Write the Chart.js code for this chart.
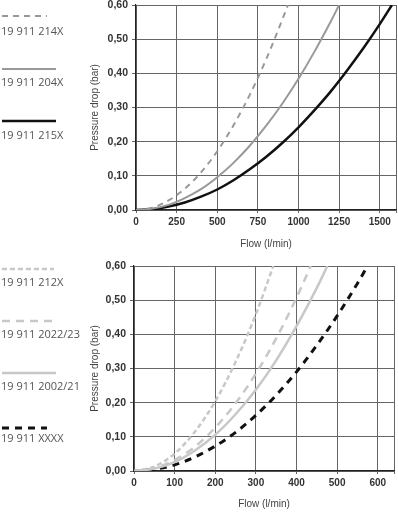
<!DOCTYPE html>
<html>
<head>
<meta charset="utf-8">
<script src="https://cdn.jsdelivr.net/npm/chart.js@4"></script>
<style>
    body { margin: 0; background: #fff; width: 398px; height: 512px; position: relative; overflow: hidden; }
    canvas { position: absolute; left: 0; }
    #topChart { top: 0; }
    #bottomChart { top: 256px; }
    .lbl { position: absolute; left: 1px; font-family: "Open Sans", sans-serif; font-size: 11px; color: #555; white-space: nowrap; line-height: 14px; }
    svg { position: absolute; left: 2px; }
</style>
</head>
<body>
<canvas id="topChart" width="398" height="256"></canvas>
<canvas id="bottomChart" width="398" height="256"></canvas>
<div id="legend"></div>
<script>
// Top chart data (flow l/min -> pressure drop bar)
const flow214 = [0, 100, 200, 300, 400, 500, 600, 700, 800, 900, 935];
const drop214 = [0, 0.007, 0.028, 0.062, 0.110, 0.172, 0.248, 0.337, 0.440, 0.557, 0.60];
const flow204 = [0, 100, 200, 300, 400, 500, 600, 700, 800, 900, 1000, 1100, 1200, 1250];
const drop204 = [0, 0.004, 0.015, 0.035, 0.061, 0.096, 0.138, 0.188, 0.246, 0.311, 0.384, 0.465, 0.553, 0.60];
const flow215 = [0, 100, 200, 300, 400, 500, 600, 700, 800, 900, 1000, 1100, 1200, 1300, 1400, 1500, 1575];
const drop215 = [0, 0.002, 0.010, 0.022, 0.039, 0.060, 0.087, 0.119, 0.155, 0.196, 0.242, 0.293, 0.348, 0.409, 0.474, 0.544, 0.60];

// Bottom chart data
const flow212 = [0, 50, 100, 150, 200, 250, 300, 343];
const drop212 = [0, 0.013, 0.051, 0.115, 0.204, 0.319, 0.459, 0.60];
const flow2022 = [0, 50, 100, 150, 200, 250, 300, 350, 400, 435];
const drop2022 = [0, 0.008, 0.032, 0.071, 0.127, 0.198, 0.285, 0.388, 0.507, 0.60];
const flow2002 = [0, 50, 100, 150, 200, 250, 300, 350, 400, 450, 476];
const drop2002 = [0, 0.007, 0.026, 0.060, 0.106, 0.166, 0.238, 0.324, 0.424, 0.536, 0.60];
const flowXXXX = [0, 50, 100, 150, 200, 250, 300, 350, 400, 450, 500, 550, 575];
const dropXXXX = [0, 0.005, 0.018, 0.041, 0.073, 0.113, 0.163, 0.222, 0.290, 0.368, 0.454, 0.549, 0.60];

const topXTicks = [0, 250, 500, 750, 1000, 1250, 1500];
const bottomXTicks = [0, 100, 200, 300, 400, 500, 600];
const yTicks = [0, 0.1, 0.2, 0.3, 0.4, 0.5, 0.6];

function series(label, xs, ys, color, width, dash) {
    return {
        label: label,
        data: xs.map((x, i) => ({ x: x, y: ys[i] })),
        borderColor: color,
        borderWidth: width,
        borderDash: dash,
        pointRadius: 0,
        tension: 0.4,
        cubicInterpolationMode: 'monotone',
        fill: false
    };
}

function makeChart(id, datasets, xMax, xTicks, geo) {
    return new Chart(document.getElementById(id), {
        type: 'line',
        data: { datasets: datasets },
        options: {
            responsive: false,
            animation: false,
            devicePixelRatio: 1,
            layout: { padding: { left: 85, right: geo.right, top: geo.top, bottom: 0 } },
            plugins: { legend: { display: false }, tooltip: { enabled: false } },
            scales: {
                x: {
                    type: 'linear', min: 0, max: xMax,
                    afterBuildTicks: s => { s.ticks = xTicks.concat([xMax]).map(v => ({ value: v })); },
                    afterFit: s => { s.height = geo.xh; s.paddingLeft = 0; s.paddingRight = 0; },
                    grid: { color: '#666', lineWidth: 1, tickLength: 3 },
                    border: { color: '#222', width: 1.2 },
                    ticks: {
                        callback: v => v === xMax ? '' : v,
                        font: { family: 'Liberation Sans', size: 10, weight: 'bold' },
                        color: '#333', padding: 3, maxRotation: 0, autoSkip: false
                    },
                    title: {
                        display: true, text: 'Flow (l/min)', color: '#444',
                        font: { family: 'Liberation Sans', size: 10 },
                        padding: { top: 0, bottom: geo.titleB }
                    }
                },
                y: {
                    min: 0, max: 0.6,
                    afterBuildTicks: s => { s.ticks = yTicks.map(v => ({ value: v })); },
                    afterFit: s => { s.width = geo.yw; s.paddingTop = 0; s.paddingBottom = 0; },
                    grid: { color: '#666', lineWidth: 1, tickLength: 4 },
                    border: { color: '#222', width: 1.2 },
                    ticks: {
                        callback: v => v.toFixed(2).replace('.', ','),
                        font: { family: 'Liberation Sans', size: 10.5, weight: 'bold' },
                        color: '#333', padding: 4
                    },
                    title: {
                        display: true, text: 'Pressure drop (bar)', color: '#444',
                        font: { family: 'Liberation Sans', size: 10 },
                        padding: { top: 4, bottom: 0 }
                    }
                }
            }
        }
    });
}

const topChart = makeChart('topChart', [
    series('19 911 214X', flow214, drop214, '#999', 2, [6, 5]),
    series('19 911 204X', flow204, drop204, '#999', 2, []),
    series('19 911 215X', flow215, drop215, '#111', 2.5, [])
], 1600, topXTicks, { right: 2, top: 5, xh: 46, yw: 51, titleB: 6 });

const bottomChart = makeChart('bottomChart', [
    series('19 911 212X', flow212, drop212, '#c8c8c8', 2.5, [5, 3]),
    series('19 911 2022/23', flow2022, drop2022, '#c8c8c8', 2.5, [8, 6]),
    series('19 911 2002/21', flow2002, drop2002, '#c8c8c8', 2.5, []),
    series('19 911 XXXX', flowXXXX, dropXXXX, '#111', 3, [7, 6])
], 640, bottomXTicks, { right: 4, top: 10, xh: 41, yw: 49, titleB: 2 });

// Left-hand legend: line sample above each label
function drawLegend(chart, offset, spots) {
    const box = document.getElementById('legend');
    chart.data.datasets.forEach((d, i) => {
        const p = spots[i];
        const svg = document.createElementNS('http://www.w3.org/2000/svg', 'svg');
        svg.setAttribute('width', p.len + 2);
        svg.setAttribute('height', 6);
        svg.style.top = (offset + p.line - 3) + 'px';
        const ln = document.createElementNS('http://www.w3.org/2000/svg', 'line');
        ln.setAttribute('x1', 0); ln.setAttribute('y1', 3);
        ln.setAttribute('x2', p.len); ln.setAttribute('y2', 3);
        ln.setAttribute('stroke', d.borderColor);
        ln.setAttribute('stroke-width', d.borderWidth);
        if (d.borderDash.length) ln.setAttribute('stroke-dasharray', d.borderDash.join(' '));
        svg.appendChild(ln);
        box.appendChild(svg);
        const t = document.createElement('div');
        t.className = 'lbl';
        t.textContent = d.label;
        t.style.top = (offset + p.text - 7) + 'px';
        box.appendChild(t);
    });
}

drawLegend(topChart, 0, [
    { line: 16, len: 45, text: 31 },
    { line: 69, len: 54, text: 82 },
    { line: 121, len: 54, text: 135 }
]);
drawLegend(bottomChart, 256, [
    { line: 13, len: 52, text: 26 },
    { line: 65, len: 50, text: 78 },
    { line: 117, len: 54, text: 130 },
    { line: 172, len: 45, text: 182 }
]);
</script>
</body>
</html>
